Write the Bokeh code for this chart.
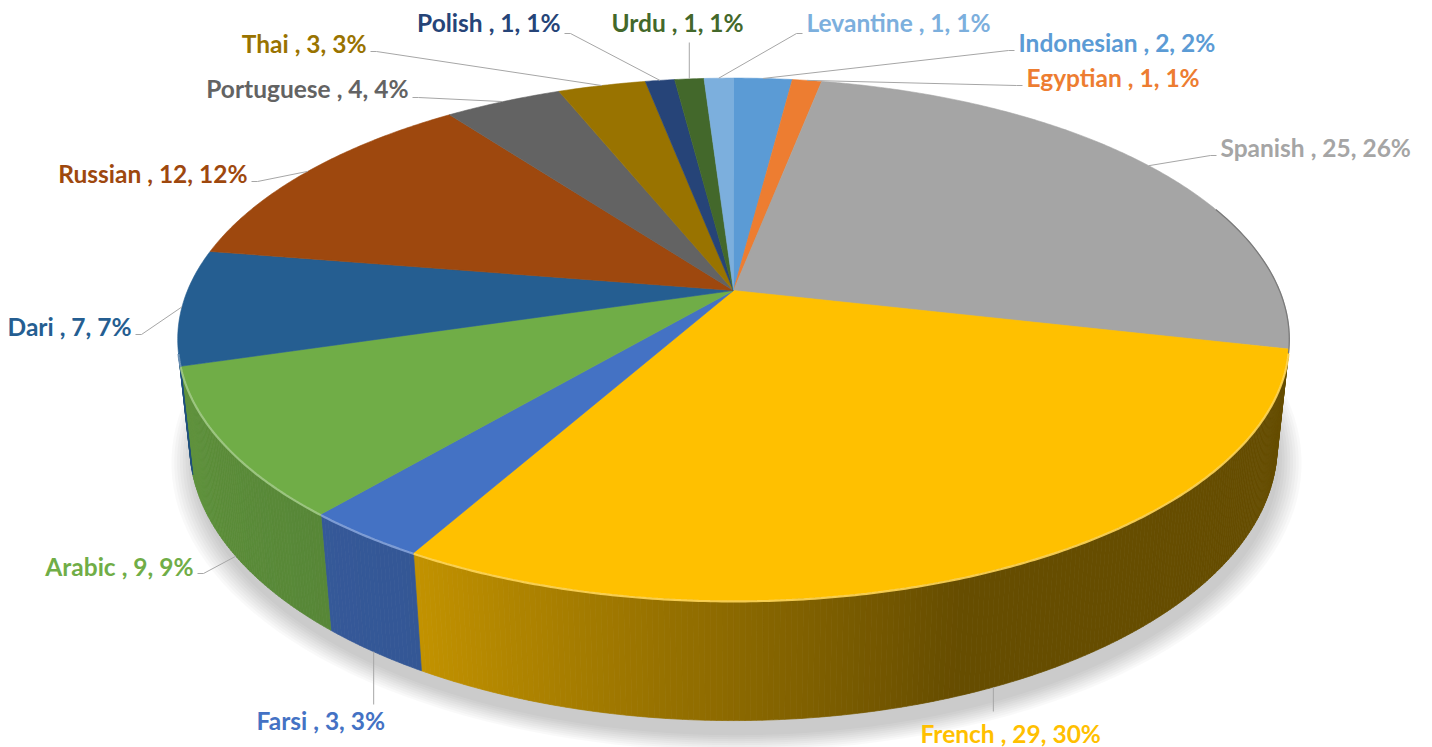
import math
from bokeh.plotting import figure
from bokeh.models import Range1d
from bokeh.core.properties import value
from bokeh.embed import file_html
from bokeh.resources import INLINE

# ---------------- data ----------------
languages = ["Indonesian", "Egyptian", "Spanish", "French", "Farsi", "Arabic",
             "Dari", "Russian", "Portuguese", "Thai", "Polish", "Urdu", "Levantine"]
counts = [2, 1, 25, 29, 3, 9, 7, 12, 4, 3, 1, 1, 1]
colors = ["#5B9BD5", "#ED7D31", "#A5A5A5", "#FFC000", "#4472C4", "#70AD47",
          "#255E91", "#9E480E", "#636363", "#997300", "#264478", "#43682B", "#7CAFDD"]

# ---------------- label layout (page pixels) ----------------
label_x = [1018, 1026, 1220, 920, 256, 193, 131, 247, 408, 366, 560, 611, 806]
label_y = [42, 77, 147, 733, 720, 566, 326, 173, 88, 43, 22, 22, 22]
label_side = ["l", "l", "l", "l", "l", "r", "r", "r", "r", "r", "r", "l", "l"]
leader_x0 = [1014, 1022, 1216, None, None, 197, 135, 251, 412, 370, 564, None, 802]
leader_y0 = [50, 85, 155, 711, 704, 573, 334, 181, 97, 51, 33, 42, 33]

# ---------------- 3D projection parameters ----------------
CX, CY = 733.0, 290.0
S = 546.0
D = 4.745
PHI = math.radians(27.5)
SP, CP = math.sin(PHI), math.cos(PHI)
H = 0.2205

W, HT = 1432, 747


def proj(theta_deg, r, yw):
    t = math.radians(theta_deg)
    X = r * math.sin(t)
    Z = -r * math.cos(t)
    zc = D - (yw * SP + Z * CP)
    yc = yw * CP - Z * SP
    return CX + S * D * X / zc, CY - S * D * yc / zc


def hex_rgb(h):
    h = h.lstrip("#")
    return [int(h[i:i + 2], 16) for i in (0, 2, 4)]


def shade(h, f):
    r, g, b = hex_rgb(h)
    return "#%02x%02x%02x" % tuple(max(0, min(255, int(round(c * f)))) for c in (r, g, b))


def lighten(h, t):
    r, g, b = hex_rgb(h)
    return "#%02x%02x%02x" % tuple(int(round(c + (255 - c) * t)) for c in (r, g, b))


SHADE_PTS = [(100, 0.40), (160, 0.40), (209, 0.76), (221, 0.78), (260, 0.86)]


def side_factor(th):
    if th <= SHADE_PTS[0][0]:
        return SHADE_PTS[0][1]
    for (a, fa), (b, fb) in zip(SHADE_PTS, SHADE_PTS[1:]):
        if th <= b:
            return fa + (fb - fa) * (th - a) / (b - a)
    return SHADE_PTS[-1][1]


total = sum(counts)
pcts = [round(100 * c / total) for c in counts]
starts, ends = [], []
acc = 0
for c in counts:
    starts.append(360.0 * acc / total)
    acc += c
    ends.append(360.0 * acc / total)

V0 = math.degrees(math.acos(-1.0 / (D * CP)))
V1 = 360.0 - V0

p = figure(width=W, height=HT, x_range=Range1d(0, W), y_range=Range1d(HT, 0),
           output_backend="svg", toolbar_location=None, min_border=0,
           x_axis_type=None, y_axis_type=None)
p.grid.visible = False
p.outline_line_color = None
p.background_fill_color = "white"

# ---------------- soft shadow ----------------
for k in range(9):
    r = 1.0 + 0.005 * k
    pts = [proj(a, r, -H - 0.02) for a in range(0, 361, 2)]
    p.patch([q[0] + 3 for q in pts], [q[1] + 4 for q in pts], fill_color="#000000",
            fill_alpha=0.022, line_color=None)

# ---------------- side walls ----------------
sx, sy, sc = [], [], []
STEP = 0.5
for i in range(len(counts)):
    a0 = max(starts[i], V0)
    a1 = min(ends[i], V1)
    if a1 <= a0:
        continue
    n = max(1, int(math.ceil((a1 - a0) / STEP)))
    for j in range(n):
        t0 = a0 + (a1 - a0) * j / n
        t1 = a0 + (a1 - a0) * (j + 1) / n
        q = [proj(t0, 1, 0), proj(t1, 1, 0), proj(t1, 1, -H), proj(t0, 1, -H)]
        sx.append([v[0] for v in q])
        sy.append([v[1] for v in q])
        sc.append(shade(colors[i], side_factor((t0 + t1) / 2)))
p.patches(sx, sy, fill_color=sc, line_color=sc, line_width=0.7)

# ---------------- top faces ----------------
tx, ty = [], []
for i in range(len(counts)):
    n = max(2, int(math.ceil((ends[i] - starts[i]) / 0.5)))
    pts = [(CX, CY)] + [proj(starts[i] + (ends[i] - starts[i]) * j / n, 1, 0) for j in range(n + 1)]
    tx.append([v[0] for v in pts])
    ty.append([v[1] for v in pts])
p.patches(tx, ty, fill_color=colors, line_color=colors, line_width=0.6)

# ---------------- rim highlight ----------------
for i in range(len(counts)):
    a0 = max(starts[i], V0)
    a1 = min(ends[i], V1)
    if a1 <= a0:
        continue
    n = max(2, int(math.ceil((a1 - a0) / 0.5)))
    pts = [proj(a0 + (a1 - a0) * j / n, 1, 0) for j in range(n + 1)]
    p.line([v[0] for v in pts], [v[1] + 0.8 for v in pts], line_color=lighten(colors[i], 0.35),
           line_width=2.2, line_alpha=0.9)
# thin dark edge on the right rim of the grey slice
pts = [proj(70 + (V0 - 70) * j / 40, 1, 0) for j in range(41)]
p.line([v[0] for v in pts], [v[1] for v in pts], line_color="#7a7a7a", line_width=1.3)

# ---------------- leader lines ----------------
lx, ly = [], []
for i in range(len(counts)):
    mid = (starts[i] + ends[i]) / 2
    on_side = V0 < mid < V1
    ax, ay = proj(mid, 1, -H if on_side else 0)
    if leader_x0[i] is None:
        lx.append([ax, ax])
        ly.append([leader_y0[i], ay])
    else:
        x0 = leader_x0[i]
        bend = x0 + (6 if label_side[i] == "r" else -6)
        lx.append([x0, bend, ax])
        ly.append([leader_y0[i], leader_y0[i], ay])
p.multi_line(lx, ly, line_color="#a6a6a6", line_width=1)

# ---------------- labels ----------------
texts = [f"{languages[i]} , {counts[i]}, {pcts[i]}%" for i in range(len(counts))]
for side, align in (("l", "left"), ("r", "right")):
    idx = [i for i in range(len(counts)) if label_side[i] == side]
    p.text(x=[label_x[i] for i in idx], y=[label_y[i] for i in idx], text=[texts[i] for i in idx],
           text_color=[colors[i] for i in idx], text_font=value("Lato"), text_font_style="bold",
           text_font_size="24.5px", text_align=align, text_baseline="middle")

open("out.html", "w").write(file_html(p, INLINE))
